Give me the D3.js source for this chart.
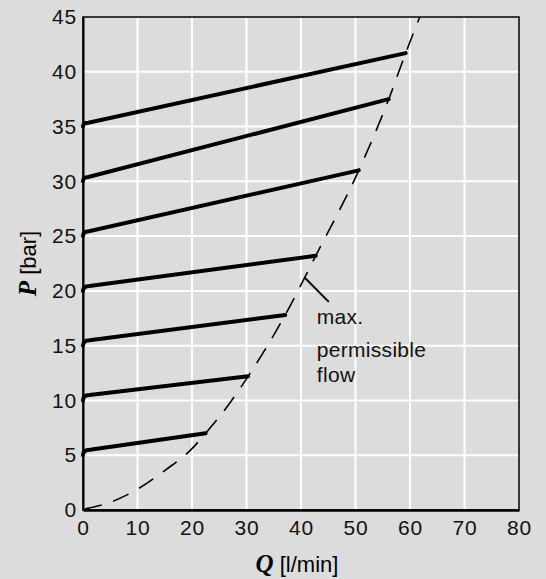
<!DOCTYPE html>
<html>
<head>
<meta charset="utf-8">
<script src="https://cdn.jsdelivr.net/npm/d3@7"></script>
<style>
  body { margin: 0; background: #dcdcdc; }
  .tick text { font-family: "Liberation Sans", Arial, sans-serif; font-size: 21px; letter-spacing: 0.8px; fill: #111; }
</style>
</head>
<body>
<div id="chart"></div>
<script>
// pressure curves: start pressure, knee point, end point (Q in l/min, P in bar)
var startP = [5, 10, 15, 20, 25, 30, 35];
var kneeQ  = [1.3, 1.2, 1.2, 1.2, 1.1, 1.0, 1.0];
var kneeP  = [5.5, 10.5, 15.5, 20.45, 25.45, 30.4, 35.35];
var endQ   = [22.5, 30.3, 37.1, 42.7, 50.6, 56.1, 59.2];
var endP   = [7.0, 12.2, 17.8, 23.2, 31.0, 37.5, 41.7];

// max. permissible flow (dashed)
var limitQ = [0.4, 5, 10, 15, 20, 22.5, 26.4, 30.3, 37.1, 42.7, 50.6, 56.1, 59.2, 61.8];
var limitP = [0.1, 0.7, 1.9, 3.6, 5.6, 7.0, 9.4, 12.2, 17.8, 23.2, 31.0, 37.5, 41.7, 45];

var xTicks = [0, 10, 20, 30, 40, 50, 60, 70, 80];
var yTicks = [0, 5, 10, 15, 20, 25, 30, 35, 40, 45];

var noteLines = ["max.", "permissible", "flow"];
var noteP = [16.95, 13.95, 11.65];
var noteQ = 42.9;
var leaderQ = [40.7, 45.1];
var leaderP = [21.2, 19.0];

var svgWidth = 546;
var svgHeight = 579;
var margin = { top: 17, right: 27, bottom: 69, left: 83 };
var width = svgWidth - margin.left - margin.right;
var height = svgHeight - margin.top - margin.bottom;

var svg = d3.select("#chart").append("svg")
  .attr("width", svgWidth)
  .attr("height", svgHeight)
  .style("display", "block");

svg.append("rect").attr("width", svgWidth).attr("height", svgHeight).attr("fill", "#dcdcdc");

var chartGroup = svg.append("g")
  .attr("transform", `translate(${margin.left}, ${margin.top})`);

var x = d3.scaleLinear().domain([0, 80]).range([0, width]);
var y = d3.scaleLinear().domain([0, 45]).range([height, 0]);

// grid
chartGroup.append("g").selectAll("line")
  .data(xTicks.slice(1, -1))
  .enter().append("line")
  .attr("x1", d => x(d)).attr("x2", d => x(d))
  .attr("y1", 0).attr("y2", height)
  .attr("stroke", "#fff").attr("stroke-width", 2);

chartGroup.append("g").selectAll("line")
  .data(yTicks.slice(1, -1))
  .enter().append("line")
  .attr("y1", d => y(d)).attr("y2", d => y(d))
  .attr("x1", 0).attr("x2", width)
  .attr("stroke", "#fff").attr("stroke-width", 2);

// frame
chartGroup.append("rect")
  .attr("width", width).attr("height", height)
  .attr("fill", "none").attr("stroke", "#000").attr("stroke-width", 1.5);

// axes
var xAxis = chartGroup.append("g")
  .attr("transform", `translate(0, ${height})`)
  .call(d3.axisBottom(x).tickValues(xTicks).tickSize(0).tickPadding(10));
xAxis.select(".domain").attr("stroke", "#000").attr("stroke-width", 2.5);

var yAxis = chartGroup.append("g")
  .call(d3.axisLeft(y).tickValues(yTicks).tickSize(0).tickPadding(6));
yAxis.select(".domain").attr("stroke", "#000").attr("stroke-width", 2);

// clip for dashed curve
svg.append("clipPath").attr("id", "plotclip")
  .append("rect").attr("width", width).attr("height", height);

var line = d3.line()
  .x(d => x(d[0]))
  .y(d => y(d[1]))
  .curve(d3.curveMonotoneX);

chartGroup.append("path")
  .datum(limitQ.map((q, i) => [q, limitP[i]]))
  .attr("clip-path", "url(#plotclip)")
  .attr("d", line)
  .attr("fill", "none")
  .attr("stroke", "#000")
  .attr("stroke-width", 1.6)
  .attr("stroke-dasharray", "17,12");

// pressure lines: short rounded knee, then straight
function pressurePath(i) {
  var p = d3.path();
  p.moveTo(x(0), y(startP[i]));
  p.quadraticCurveTo(x(0), y(kneeP[i]), x(kneeQ[i]), y(kneeP[i]));
  p.lineTo(x(endQ[i]), y(endP[i]));
  return p.toString();
}

chartGroup.append("g").selectAll("path")
  .data(startP)
  .enter().append("path")
  .attr("d", (d, i) => pressurePath(i))
  .attr("fill", "none")
  .attr("stroke", "#000")
  .attr("stroke-width", 4)
  .attr("stroke-linecap", "round");

// annotation
chartGroup.append("line")
  .attr("x1", x(leaderQ[0])).attr("y1", y(leaderP[0]))
  .attr("x2", x(leaderQ[1])).attr("y2", y(leaderP[1]))
  .attr("stroke", "#000").attr("stroke-width", 2);

chartGroup.append("g").selectAll("text")
  .data(noteLines)
  .enter().append("text")
  .attr("x", x(noteQ))
  .attr("y", (d, i) => y(noteP[i]))
  .attr("font-family", "Liberation Sans, Arial, sans-serif")
  .attr("font-size", 21)
  .attr("letter-spacing", 0.3)
  .attr("fill", "#111")
  .text(d => d);

// axis titles
var xTitle = chartGroup.append("text")
  .attr("x", width / 2 - 4)
  .attr("y", height + 62)
  .attr("text-anchor", "middle")
  .attr("font-size", 22);
xTitle.append("tspan")
  .attr("font-family", "Liberation Serif, Times New Roman, serif")
  .attr("font-style", "italic").attr("font-weight", "bold")
  .attr("font-size", 25)
  .text("Q");
xTitle.append("tspan")
  .attr("font-family", "Liberation Sans, Arial, sans-serif")
  .text(" [l/min]");

var yTitle = chartGroup.append("text")
  .attr("transform", `translate(${-margin.left + 36}, ${height / 2}) rotate(-90)`)
  .attr("text-anchor", "middle")
  .attr("font-size", 22);
yTitle.append("tspan")
  .attr("font-family", "Liberation Serif, Times New Roman, serif")
  .attr("font-style", "italic").attr("font-weight", "bold")
  .attr("font-size", 25)
  .text("P");
yTitle.append("tspan")
  .attr("font-family", "Liberation Sans, Arial, sans-serif")
  .text(" [bar]");
</script>
</body>
</html>
